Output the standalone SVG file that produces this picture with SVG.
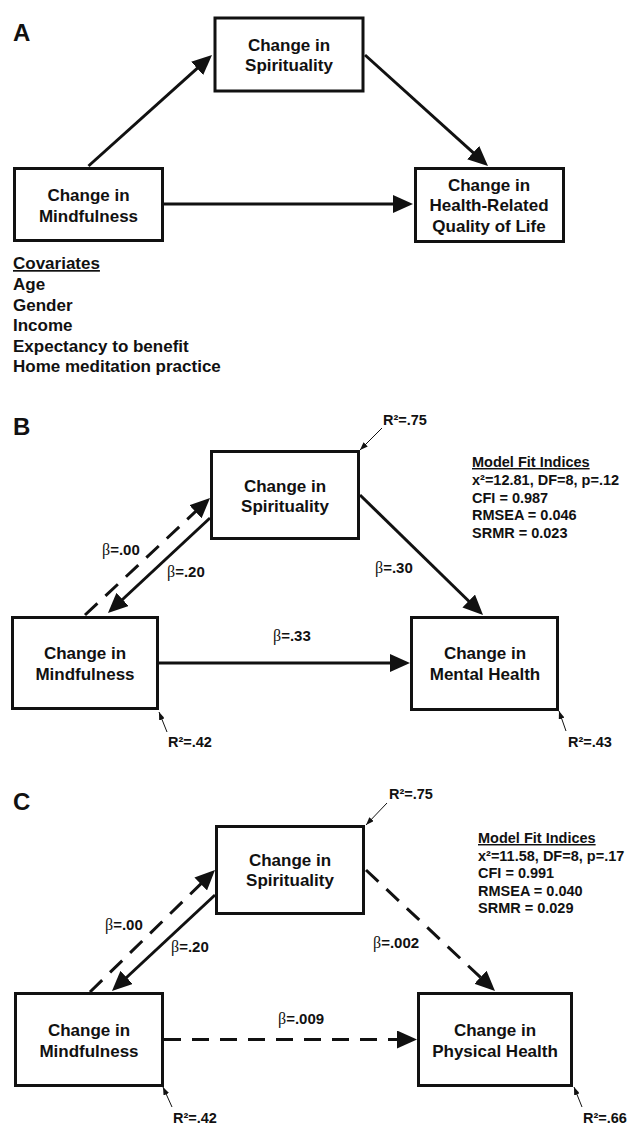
<svg xmlns="http://www.w3.org/2000/svg" width="630" height="1126" viewBox="0 0 630 1126">
<style>
  text { font-family: "Liberation Sans", Arial, sans-serif; font-weight: bold; fill: #111; }
  .box { fill: #fff; stroke: #111; stroke-width: 3; }
  .nt { font-size: 17px; text-anchor: middle; }
  .panel { font-size: 24px; }
  .cov { font-size: 17px; }
  .fit { font-size: 14.5px; }
  .r2 { font-size: 14.5px; }
  .beta { font-size: 15px; }
  .b { font-family: "Liberation Serif", "DejaVu Serif", serif; font-weight: normal; fill: #111; font-size: 16px; }
  .u { text-decoration: underline; }
  .edge { stroke: #111; stroke-width: 3; fill: none; marker-end: url(#ah); }
  .dash { stroke-dasharray: 17 11; }
  .thin { stroke: #111; stroke-width: 1; fill: none; marker-end: url(#sm); }
</style>
<defs>
  <marker id="ah" markerUnits="userSpaceOnUse" markerWidth="20" markerHeight="18" refX="6" refY="9" orient="auto">
    <path d="M0,0 L20,9 L0,18 z" fill="#111"/>
  </marker>
  <marker id="sm" markerUnits="userSpaceOnUse" markerWidth="8" markerHeight="6" refX="8" refY="3" orient="auto">
    <path d="M0,0 L8,3 L0,6 z" fill="#111"/>
  </marker>
</defs>
<rect width="630" height="1126" fill="#fff"/>

<!-- Panel labels -->
<text class="panel" x="13" y="41">A</text>
<text class="panel" x="13" y="435">B</text>
<text class="panel" x="13" y="810">C</text>

<!-- Connectors -->
<g id="connectors">
  <!-- A -->
  <line class="edge" x1="88.5" y1="166" x2="201.6" y2="64.4"/>
  <line class="edge" x1="365" y1="55" x2="477.6" y2="156.6"/>
  <line class="edge" x1="164" y1="204" x2="399" y2="204"/>
  <!-- B -->
  <line class="edge dash" x1="85" y1="615" x2="199.8" y2="507.6"/>
  <line class="edge" x1="210" y1="518" x2="118.2" y2="603.5"/>
  <line class="edge" x1="360" y1="495" x2="473" y2="605.2"/>
  <line class="edge" x1="159" y1="663" x2="396" y2="663"/>
  <line class="thin" x1="382" y1="428" x2="360" y2="450"/>
  <line class="thin" x1="167" y1="732" x2="159" y2="712"/>
  <line class="thin" x1="566" y1="731" x2="559" y2="711"/>
  <!-- C -->
  <line class="edge dash" x1="90" y1="992" x2="205" y2="879.8"/>
  <line class="edge" x1="215" y1="895" x2="122.2" y2="981.5"/>
  <line class="edge dash" x1="366" y1="870" x2="484.8" y2="981.4"/>
  <line class="edge dash" x1="164" y1="1039.5" x2="403" y2="1039.5"/>
  <line class="thin" x1="387" y1="803" x2="366" y2="825"/>
  <line class="thin" x1="172" y1="1107" x2="163" y2="1087"/>
  <line class="thin" x1="582" y1="1107" x2="574" y2="1087"/>
</g>

<!-- Panel A nodes -->
<g id="A-spirituality">
  <rect class="box" x="215" y="18" width="148" height="73"/>
  <text class="nt" x="289" y="51">Change in</text>
  <text class="nt" x="289" y="71">Spirituality</text>
</g>
<g id="A-mindfulness">
  <rect class="box" x="14.5" y="168.5" width="148" height="72"/>
  <text class="nt" x="88.5" y="201">Change in</text>
  <text class="nt" x="88.5" y="222">Mindfulness</text>
</g>
<g id="A-hrqol">
  <rect class="box" x="415.5" y="168.5" width="148" height="73"/>
  <text class="nt" x="489" y="191">Change in</text>
  <text class="nt" x="489" y="211">Health-Related</text>
  <text class="nt" x="489" y="232">Quality of Life</text>
</g>
<g id="A-covariates">
  <text class="cov u" x="13" y="269">Covariates</text>
  <text class="cov" x="13" y="290">Age</text>
  <text class="cov" x="13" y="311">Gender</text>
  <text class="cov" x="13" y="331">Income</text>
  <text class="cov" x="13" y="352">Expectancy to benefit</text>
  <text class="cov" x="13" y="372">Home meditation practice</text>
</g>

<!-- Panel B nodes -->
<g id="B-spirituality">
  <rect class="box" x="211.5" y="451.5" width="147" height="87"/>
  <text class="nt" x="285" y="492">Change in</text>
  <text class="nt" x="285" y="512">Spirituality</text>
</g>
<g id="B-mindfulness">
  <rect class="box" x="12.5" y="617.5" width="145" height="91"/>
  <text class="nt" x="85" y="659">Change in</text>
  <text class="nt" x="85" y="680">Mindfulness</text>
</g>
<g id="B-mental">
  <rect class="box" x="411.5" y="617.5" width="146" height="92"/>
  <text class="nt" x="485" y="659">Change in</text>
  <text class="nt" x="485" y="680">Mental Health</text>
</g>
<g id="B-labels">
  <text class="beta" x="102" y="555"><tspan class="b">β</tspan>=.00</text>
  <text class="beta" x="167" y="577"><tspan class="b">β</tspan>=.20</text>
  <text class="beta" x="375" y="573"><tspan class="b">β</tspan>=.30</text>
  <text class="beta" x="273" y="641"><tspan class="b">β</tspan>=.33</text>
  <text class="r2" x="383" y="425">R²=.75</text>
  <text class="r2" x="168" y="747">R²=.42</text>
  <text class="r2" x="568" y="747">R²=.43</text>
</g>
<g id="B-fit">
  <text class="fit u" x="472" y="467">Model Fit Indices</text>
  <text class="fit" x="472" y="485">x²=12.81, DF=8, p=.12</text>
  <text class="fit" x="472" y="502.5">CFI = 0.987</text>
  <text class="fit" x="472" y="520">RMSEA = 0.046</text>
  <text class="fit" x="472" y="537.5">SRMR = 0.023</text>
</g>

<!-- Panel C nodes -->
<g id="C-spirituality">
  <rect class="box" x="216.5" y="826.5" width="147" height="87"/>
  <text class="nt" x="290" y="866">Change in</text>
  <text class="nt" x="290" y="886">Spirituality</text>
</g>
<g id="C-mindfulness">
  <rect class="box" x="15.5" y="993.5" width="147" height="92"/>
  <text class="nt" x="89" y="1036">Change in</text>
  <text class="nt" x="89" y="1057">Mindfulness</text>
</g>
<g id="C-physical">
  <rect class="box" x="418.5" y="993.5" width="153" height="92"/>
  <text class="nt" x="495" y="1036">Change in</text>
  <text class="nt" x="495" y="1057">Physical Health</text>
</g>
<g id="C-labels">
  <text class="beta" x="105" y="930"><tspan class="b">β</tspan>=.00</text>
  <text class="beta" x="171" y="952"><tspan class="b">β</tspan>=.20</text>
  <text class="beta" x="373" y="948"><tspan class="b">β</tspan>=.002</text>
  <text class="beta" x="278" y="1024"><tspan class="b">β</tspan>=.009</text>
  <text class="r2" x="389" y="799">R²=.75</text>
  <text class="r2" x="173" y="1123">R²=.42</text>
  <text class="r2" x="583" y="1123">R²=.66</text>
</g>
<g id="C-fit">
  <text class="fit u" x="478" y="843">Model Fit Indices</text>
  <text class="fit" x="478" y="861">x²=11.58, DF=8, p=.17</text>
  <text class="fit" x="478" y="878">CFI = 0.991</text>
  <text class="fit" x="478" y="896">RMSEA = 0.040</text>
  <text class="fit" x="478" y="913">SRMR = 0.029</text>
</g>
</svg>
